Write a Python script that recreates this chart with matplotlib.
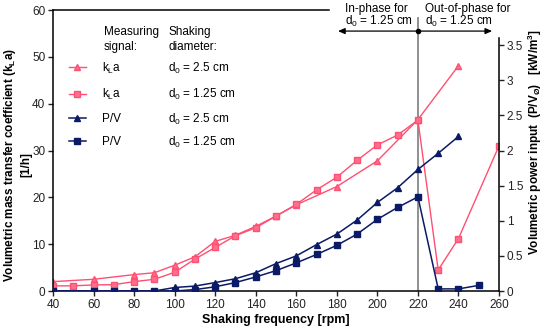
import matplotlib
matplotlib.use("Agg")
import matplotlib.pyplot as plt
from matplotlib.ticker import FormatStrFormatter

plt.rcParams['font.family'] = ['Liberation Sans', 'DejaVu Sans']
plt.rcParams['font.size'] = 8
plt.rcParams['mathtext.fontset'] = 'custom'
plt.rcParams['mathtext.rm'] = 'Liberation Sans'
plt.rcParams['mathtext.it'] = 'Liberation Sans'
plt.rcParams['mathtext.bf'] = 'Liberation Sans:bold'

# kLa [1/h], d0 = 2.5 cm
rpm_kla25 = [40, 60, 80, 90, 100, 110, 120, 130, 140, 150, 160, 180, 200, 220, 240]
kla25 = [2.0, 2.5, 3.5, 3.9, 5.5, 7.3, 10.6, 11.9, 13.8, 16.0, 18.4, 22.3, 27.8, 36.6, 48.1]

# kLa [1/h], d0 = 1.25 cm
rpm_kla125 = [40, 50, 60, 70, 80, 90, 100, 110, 120, 130, 140, 150, 160, 170, 180,
              190, 200, 210, 220, 230, 240, 260]
kla125 = [1.1, 1.1, 1.3, 1.35, 2.0, 2.5, 4.0, 6.8, 9.3, 11.8, 13.5, 16.0, 18.5, 21.6, 24.3,
          27.9, 31.2, 33.3, 36.5, 4.5, 11.2, 31.0]

# P/V [kW/m3], d0 = 2.5 cm
rpm_pv25 = [40, 60, 80, 90, 100, 110, 120, 130, 140, 150, 160, 170, 180, 190, 200,
            210, 220, 230, 240]
pv25 = [0, 0, 0, 0, 0.05, 0.07, 0.12, 0.175, 0.26, 0.39, 0.5, 0.66, 0.81, 1.01, 1.26,
        1.47, 1.73, 1.96, 2.2]

# P/V [kW/m3], d0 = 1.25 cm
rpm_pv125 = [40, 60, 70, 80, 90, 100, 110, 120, 130, 140, 150, 160, 170, 180, 190,
             200, 210, 220, 230, 240, 250]
pv125 = [0, 0, 0, 0, 0, 0, 0.02, 0.06, 0.12, 0.2, 0.29, 0.4, 0.52, 0.65, 0.81,
         1.02, 1.19, 1.34, 0.03, 0.03, 0.08]

signals = ['k$_\\mathregular{L}$a', 'k$_\\mathregular{L}$a', 'P/V', 'P/V']
diameters = ['d$_\\mathregular{0}$ = 2.5 cm', 'd$_\\mathregular{0}$ = 1.25 cm',
             'd$_\\mathregular{0}$ = 2.5 cm', 'd$_\\mathregular{0}$ = 1.25 cm']

pink = '#FF4F72'
pink_face = '#FF6F8B'
navy = '#0B1A66'

fig = plt.figure(figsize=(5.43, 3.28), dpi=100)
ax = fig.add_axes([0.0976, 0.1128, 0.8214, 0.8567])
ax2 = ax.twinx()

l1, = ax.plot(rpm_kla25, kla25, '-^', color=pink, mfc=pink_face, mec=pink, lw=1, ms=5)
l2, = ax.plot(rpm_kla125, kla125, '-s', color=pink, mfc=pink_face, mec=pink, lw=1, ms=4.2)
l3, = ax2.plot(rpm_pv25, pv25, '-^', color=navy, lw=1.1, ms=5)
l4, = ax2.plot(rpm_pv125, pv125, '-s', color=navy, lw=1.1, ms=4.2)

ax.set_xlim(40, 260)
ax.set_ylim(0, 60)
ax2.set_ylim(0, 4)
ax.set_xticks(range(40, 261, 20))
ax.set_yticks(range(0, 61, 10))
ax2.set_yticks([0, 0.5, 1, 1.5, 2, 2.5, 3, 3.5])
ax2.yaxis.set_major_formatter(FormatStrFormatter('%g'))

for a in (ax, ax2):
    a.tick_params(direction='out', length=3.5, width=1, pad=2, labelsize=8.5, colors='#222222')
    for s in a.spines.values():
        s.set_linewidth(1.1)
ax.spines['right'].set_visible(False)
ax2.spines['left'].set_visible(False)
ax2.spines['bottom'].set_visible(False)
ax2.spines['top'].set_visible(False)
ax.spines['top'].set_bounds(40, 176)
ax2.spines['right'].set_bounds(0, 3.6)

# phase boundary marker
ax.plot([220, 220], [0, 58.3], color='#888888', lw=1.3, zorder=1)
ax.annotate('', xy=(180.6, 55.5), xytext=(256.6, 55.5),
            arrowprops=dict(arrowstyle='<|-|>,head_length=0.5,head_width=0.22',
                            color='black', lw=0.9, shrinkA=0, shrinkB=0))
ax.plot([220], [55.5], 'o', color='black', ms=3)
ax.text(184, 61.6, 'In-phase for\nd$_\\mathregular{0}$ = 1.25 cm', ha='left', va='top',
        linespacing=0.95, fontsize=8.5, clip_on=False)
ax.text(223.5, 61.6, 'Out-of-phase for\nd$_\\mathregular{0}$ = 1.25 cm', ha='left', va='top',
        linespacing=0.95, fontsize=8.5, clip_on=False)

# legend
leg = ax2.legend([l1, l2, l3, l4], signals, loc='upper left', bbox_to_anchor=(0.035, 0.82),
                 frameon=False, fontsize=8.5, handlelength=1.5, handletextpad=1.3,
                 labelspacing=0.95, borderpad=0, borderaxespad=0)
ax.text(0.1143, 0.895, 'Measuring\nsignal:', transform=ax.transAxes, ha='left', va='center',
        linespacing=1.35, fontsize=8.5)
ax.text(0.258, 0.895, 'Shaking\ndiameter:', transform=ax.transAxes, ha='left', va='center',
        linespacing=1.35, fontsize=8.5)
fig.canvas.draw()
inv = ax.transAxes.inverted()
for t, lab in zip(leg.get_texts(), diameters):
    bb = t.get_window_extent()
    y = inv.transform((0, (bb.y0 + bb.y1) / 2))[1]
    ax.text(0.258, y, lab, transform=ax.transAxes, ha='left', va='center', fontsize=8.5)

fig.text(0.032, 0.497, 'Volumetric mass transfer coefficient (k$_\\mathbf{L}$a)\n[1/h]',
         rotation=90, ha='center', va='center', fontweight='bold', fontsize=8.5,
         linespacing=1.2)
fig.text(0.985, 0.567, 'Volumetric power input  (P/V$_\\mathbf{Ø}$)   [kW/m$^\\mathbf{3}$]',
         rotation=90, ha='center', va='center', fontweight='bold', fontsize=8.5)
fig.text(0.508, 0.025, 'Shaking frequency [rpm]', ha='center', va='center',
         fontweight='bold', fontsize=9)

fig.savefig('out.png', dpi=100)
